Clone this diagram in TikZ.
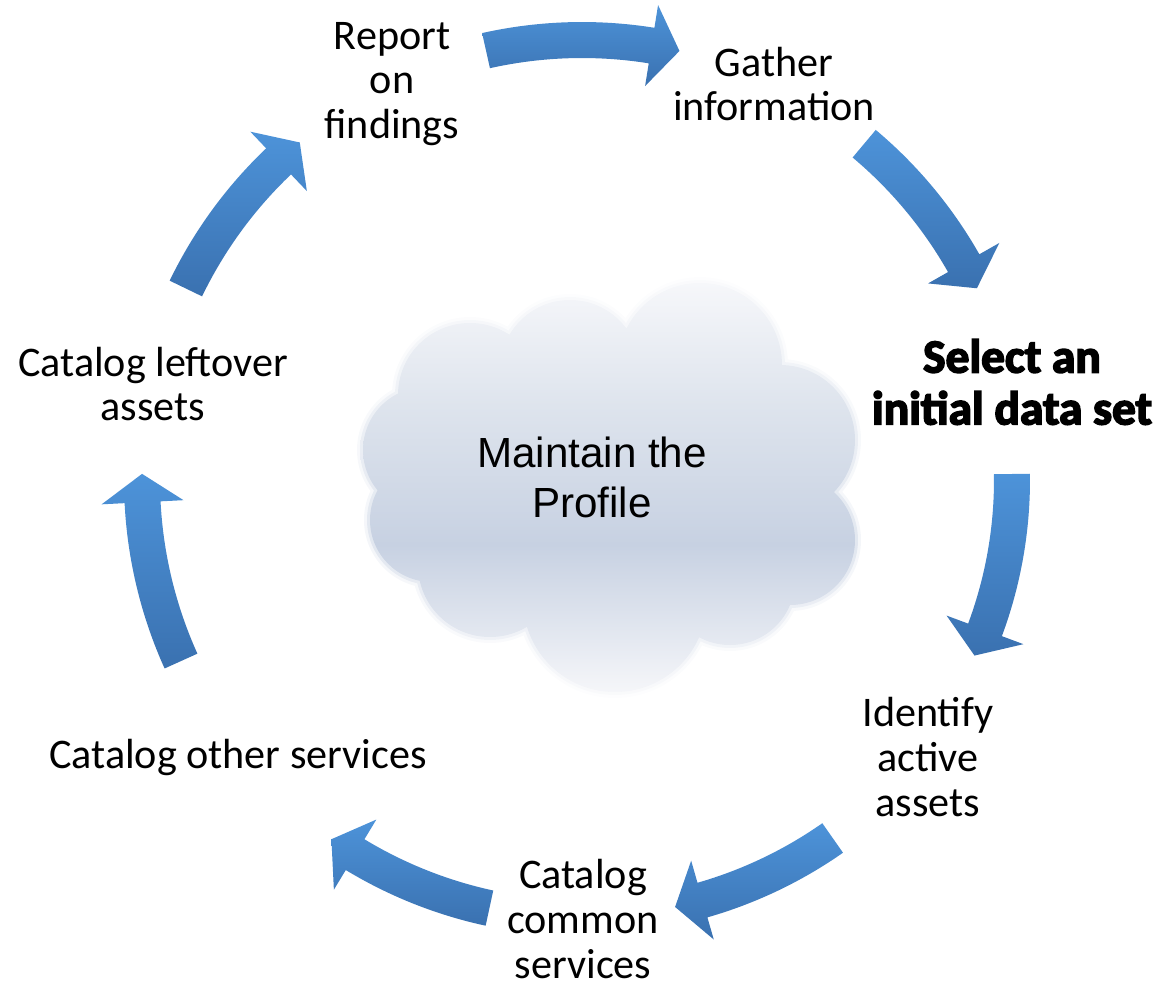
\documentclass[tikz,border=0pt]{standalone}
\usepackage{fontspec}
\setmainfont{Carlito}
\newfontfamily\cloudfont{Liberation Sans}
\newfontfamily\heavyfont[BoldFeatures={FakeBold=3.5}]{Carlito}
\usetikzlibrary{calc}
\definecolor{arrowtop}{HTML}{4D93D9}
\definecolor{arrowbot}{HTML}{3A71B0}
\definecolor{cloudtop}{HTML}{F6F7FA}
\definecolor{cloudupper}{HTML}{DEE4ED}
\definecolor{cloudmid}{HTML}{C7D1E2}
\definecolor{cloudbot}{HTML}{F5F6F9}
\pgfdeclareverticalshading{cloudshade}{100bp}{color(0bp)=(cloudbot); color(25bp)=(cloudbot); color(43bp)=(cloudmid); color(60bp)=(cloudupper); color(75bp)=(cloudtop); color(100bp)=(cloudtop)}
\tikzset{
    stage/.style={align=center, font=\fontsize{24}{25.5}\selectfont, inner sep=0pt},
    cyclearrow/.style={top color=arrowtop, bottom color=arrowbot, draw=none},
    cloudfill/.style={shading=cloudshade},
}
\newcommand{\shaftw}{18}
\newcommand{\headw}{41}
\newcommand{\puffs}{470/-395/72, 570/-370/70, 700/-365/82, 780/-440/75, 790/-540/65, 730/-580/65, 615/-600/92, 490/-565/72, 432/-520/62, 426/-450/63, 600/-480/150}

\begin{document}
\begin{tikzpicture}[x=0.02cm, y=0.02cm]
        \useasboundingbox (0,0) rectangle (1161,-984);
        \coordinate (hub) at (582,-480);
        %draw the cloud, soft rim first
        \shade[cloudfill, opacity=0.2] \foreach \x/\y/\rr in \puffs {(\x,\y) circle ({\rr+6})};
        \shade[cloudfill, opacity=0.4] \foreach \x/\y/\rr in \puffs {(\x,\y) circle ({\rr+3})};
        \shade[cloudfill] \foreach \x/\y/\rr in \puffs {(\x,\y) circle (\rr)};
        \node[font=\cloudfont\fontsize{24}{28.4}\selectfont, align=center] (profile) at (592,-477) {Maintain the\\Profile};
        %draw the arrows round the hub
        \foreach \a/\b/\r in {102.6/77.2/440, 50.0/25.9/439, 0.8/-24.1/430, -55.0/-77.7/437, -102.2/-124.9/438, -155.7/-180.8/440, -205.8/-230.1/440} {
            \pgfmathsetmacro{\c}{\b+3.7}
            \pgfmathsetmacro{\ro}{\r+\shaftw}
            \pgfmathsetmacro{\ri}{\r-\shaftw}
            \pgfmathsetmacro{\ho}{\r+\headw}
            \pgfmathsetmacro{\hi}{\r-\headw}
            \shade[cyclearrow] ($(hub)+(\a:\ro)$) arc[start angle=\a, end angle=\c, radius=\ro]
                -- ($(hub)+(\c:\ho)$) -- ($(hub)+(\b:\r)$) -- ($(hub)+(\c:\hi)$)
                -- ($(hub)+(\c:\ri)$) arc[start angle=\c, end angle=\a, radius=\ri] -- cycle;
        }
        %label the stages
        \node[stage] (report) at (392,-84) {Report\\on\\findings};
        \node[stage] (gather) at (774,-84) {Gather\\information};
        \node[stage, font=\heavyfont\bfseries\fontsize{27}{29.5}\selectfont] (select) at (1012,-382) {Select an\\initial data set};
        \node[stage] (identify) at (928,-757) {Identify\\active\\assets};
        \node[stage] (common) at (583,-919) {Catalog\\common\\services};
        \node[stage] (other) at (238,-757) {Catalog other services};
        \node[stage] (leftover) at (153,-384) {Catalog leftover\\assets};
\end{tikzpicture}
\end{document}
